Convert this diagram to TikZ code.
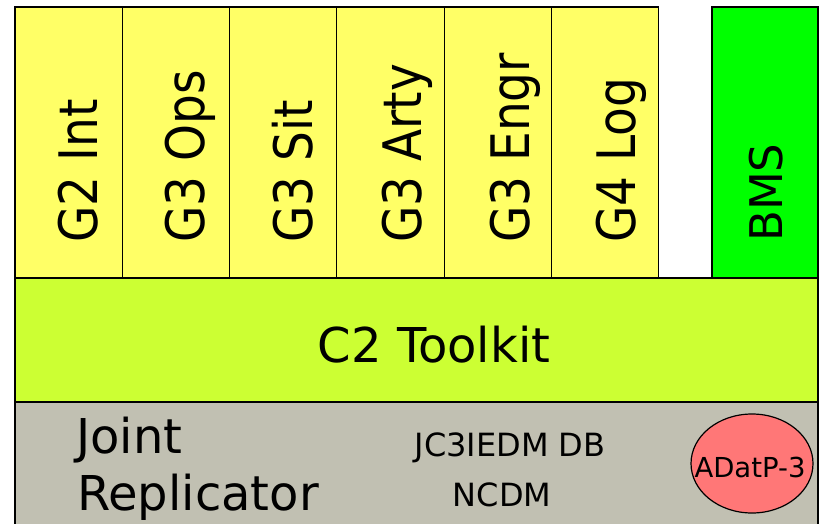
\documentclass[tikz,border=0pt]{standalone}
\usepackage{fontspec}
\setmainfont{DejaVu Sans}
\usetikzlibrary{shapes.geometric}
\definecolor{colyel}{HTML}{FFFF66}
\definecolor{collime}{HTML}{CCFF33}
\definecolor{colgreen}{HTML}{00FF00}
\definecolor{colgray}{HTML}{C1C0B2}
\definecolor{colpink}{HTML}{FF7777}
\newcommand{\vstretchtxt}[1]{\scalebox{1}[1.13]{#1}}
\begin{document}
\begin{tikzpicture}[x=1pt,y=-1pt,
  box/.style={draw=black, line width=1.3pt, inner sep=0pt, outer sep=0pt, anchor=north west},
  colbox/.style={box, line width=1.1pt, fill=colyel, minimum width=107.3pt, minimum height=271pt},
  vlabel/.style={rotate=90, anchor=base west, inner sep=0pt, font=\fontsize{47}{47}\selectfont},
  hlabel/.style={anchor=base, inner sep=0pt, font=\fontsize{48}{48}\selectfont},
  small/.style={anchor=base, inner sep=0pt, font=\fontsize{32}{32}\selectfont},
]
\path[use as bounding box, clip] (0,0) rectangle (821,524);
% columns
\node[colbox] (c1) at (15,7) {};
\node[colbox] (c2) at (122.3,7) {};
\node[colbox] (c3) at (229.6,7) {};
\node[colbox] (c4) at (336.9,7) {};
\node[colbox] (c5) at (444.2,7) {};
\node[colbox] (c6) at (551.5,7) {};
\node[box, fill=colgreen, minimum width=106pt, minimum height=271pt] (bms) at (712,7) {};
\node[vlabel] (t1) at (97,243) {\vstretchtxt{G2 Int}};
\node[vlabel] (t2) at (204,243) {\vstretchtxt{G3 Ops}};
\node[vlabel] (t3) at (312,243) {\vstretchtxt{G3 Sit}};
\node[vlabel] (t4) at (421,243) {\vstretchtxt{G3 Arty}};
\node[vlabel] (t5) at (529,243) {\vstretchtxt{G3 Engr}};
\node[vlabel] (t6) at (635,243) {\vstretchtxt{G4 Log}};
\node[vlabel, font=\fontsize{45}{45}\selectfont] (t7) at (782,242) {BMS};
% toolkit
\node[box, fill=collime, minimum width=803pt, minimum height=124pt] (tk) at (15,278) {};
\node[hlabel] (tkl) at (434,362) {C2 Toolkit};
% replicator
\node[box, fill=colgray, minimum width=803pt, minimum height=140pt] (jr) at (15,402) {};
\node[hlabel, anchor=base west] (jl1) at (76,453) {Joint};
\node[hlabel, anchor=base west] (jl2) at (77,510) {Replicator};
\node[small] (db) at (510,456) {JC3IEDM DB};
\node[small] (nc) at (502,506) {NCDM};
\node[ellipse, draw=black, line width=1.2pt, fill=colpink, minimum width=122pt, minimum height=99pt, inner sep=0pt] (ad) at (752,463.5) {};
\node[anchor=base, inner sep=0pt, font=\fontsize{27.5}{27.5}\selectfont] (adl) at (750,477) {ADatP-3};
\end{tikzpicture}
\end{document}
